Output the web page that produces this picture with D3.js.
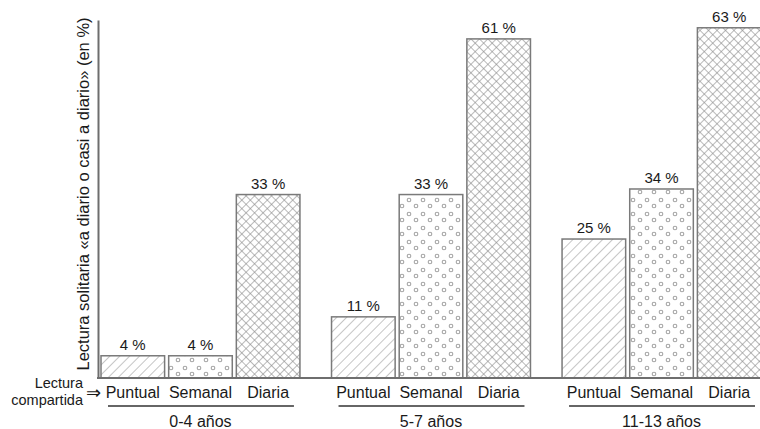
<!DOCTYPE html>
<html>
<head>
<meta charset="utf-8">
<script src="https://cdn.jsdelivr.net/npm/d3@7"></script>
<style>
  body { margin: 0; background: #fff; }
  text { font-family: "Liberation Sans", Arial, sans-serif; fill: #1a1a1a; }
</style>
</head>
<body>
<div id="chart"></div>
<script>

let groups = ["0-4 años", "5-7 años", "11-13 años"];
let cats = ["Puntual", "Semanal", "Diaria"];
let puntual = [4, 11, 25];
let semanal = [4, 33, 34];
let diaria = [33, 61, 63];

let width = 760, height = 429;

let data = [];
groups.forEach(function(g, i) {
    data.push({group: g, cat: "Puntual", value: puntual[i]});
    data.push({group: g, cat: "Semanal", value: semanal[i]});
    data.push({group: g, cat: "Diaria", value: diaria[i]});
});

let svg = d3.select("#chart")
    .append("svg")
    .attr("width", width)
    .attr("height", height);

// patterns
let defs = svg.append("defs");

let p1 = defs.append("pattern")
    .attr("id", "pat-puntual")
    .attr("patternUnits", "userSpaceOnUse")
    .attr("width", 7).attr("height", 7)
    .attr("patternTransform", "rotate(45)");
p1.append("rect").attr("width", 7).attr("height", 7).attr("fill", "#fff");
p1.append("line")
    .attr("x1", 0).attr("y1", 0).attr("x2", 0).attr("y2", 7)
    .attr("stroke", "#959595").attr("stroke-width", 1.1);

let p2 = defs.append("pattern")
    .attr("id", "pat-semanal")
    .attr("patternUnits", "userSpaceOnUse")
    .attr("width", 14).attr("height", 14);
p2.append("rect").attr("width", 14).attr("height", 14).attr("fill", "#fff");
p2.append("circle").attr("cx", 3).attr("cy", 4).attr("r", 1.8)
    .attr("fill", "none").attr("stroke", "#a5a5a5").attr("stroke-width", 1.1);
p2.append("circle").attr("cx", 10).attr("cy", 10).attr("r", 1.8)
    .attr("fill", "none").attr("stroke", "#a5a5a5").attr("stroke-width", 1.1);

let p3 = defs.append("pattern")
    .attr("id", "pat-diaria")
    .attr("patternUnits", "userSpaceOnUse")
    .attr("width", 6).attr("height", 6)
    .attr("patternTransform", "rotate(45)");
p3.append("rect").attr("width", 6).attr("height", 6).attr("fill", "#fff");
p3.append("line").attr("x1", 0).attr("y1", 0).attr("x2", 0).attr("y2", 6)
    .attr("stroke", "#8a8a8a").attr("stroke-width", 1.2);
p3.append("line").attr("x1", 0).attr("y1", 0).attr("x2", 6).attr("y2", 0)
    .attr("stroke", "#8a8a8a").attr("stroke-width", 1.2);

let fills = {"Puntual": "url(#pat-puntual)", "Semanal": "url(#pat-semanal)", "Diaria": "url(#pat-diaria)"};

let x0 = d3.scaleBand()
    .domain(groups)
    .range([101, 761])
    .paddingInner(0.137);

let x1 = d3.scaleBand()
    .domain(cats)
    .range([0, x0.bandwidth()])
    .paddingInner(0.06);

let y = d3.scaleLinear()
    .domain([0, 64.4])
    .range([378, 20]);

// bars
svg.selectAll(".bar")
    .data(data)
    .enter().append("rect")
    .attr("class", "bar")
    .attr("x", function(d) { return x0(d.group) + x1(d.cat); })
    .attr("y", function(d) { return y(d.value); })
    .attr("width", x1.bandwidth())
    .attr("height", function(d) { return y(0) - y(d.value); })
    .attr("fill", function(d) { return fills[d.cat]; })
    .attr("stroke", "#7a7a7a")
    .attr("stroke-width", 1.5);

// value labels
svg.selectAll(".val")
    .data(data)
    .enter().append("text")
    .attr("class", "val")
    .attr("x", function(d) { return x0(d.group) + x1(d.cat) + x1.bandwidth() / 2; })
    .attr("y", function(d) { return y(d.value) - 6; })
    .attr("text-anchor", "middle")
    .style("font-size", "15px")
    .text(function(d) { return d.value + " %"; });

// y axis
let yAxis = d3.axisLeft(y).tickValues([]).tickSizeOuter(0);
let yAxisGroup = svg.append("g")
    .attr("transform", "translate(98,0)")
    .call(yAxis);
yAxisGroup.select(".domain").attr("stroke", "#6e6e6e").attr("stroke-width", 2);

// baseline
svg.append("line")
    .attr("x1", 97).attr("x2", width)
    .attr("y1", y(0)).attr("y2", y(0))
    .attr("stroke", "#6e6e6e").attr("stroke-width", 2);

// category labels
svg.selectAll(".cat")
    .data(data)
    .enter().append("text")
    .attr("class", "cat")
    .attr("x", function(d) { return x0(d.group) + x1(d.cat) + x1.bandwidth() / 2; })
    .attr("y", 398)
    .attr("text-anchor", "middle")
    .style("font-size", "16px")
    .text(function(d) { return d.cat; });

// group underline + label
svg.selectAll(".gline")
    .data(groups)
    .enter().append("line")
    .attr("x1", function(d) { return x0(d) + 7; })
    .attr("x2", function(d) { return x0(d) + x0.bandwidth() - 6; })
    .attr("y1", 406).attr("y2", 406)
    .attr("stroke", "#333").attr("stroke-width", 1.5);

svg.selectAll(".glabel")
    .data(groups)
    .enter().append("text")
    .attr("x", function(d) { return x0(d) + x0.bandwidth() / 2; })
    .attr("y", 427)
    .attr("text-anchor", "middle")
    .style("font-size", "16px")
    .text(function(d) { return d; });

// "Lectura compartida" note
svg.append("text")
    .attr("x", 83).attr("y", 388)
    .attr("text-anchor", "end")
    .style("font-size", "14.5px")
    .text("Lectura");
svg.append("text")
    .attr("x", 83).attr("y", 405)
    .attr("text-anchor", "end")
    .style("font-size", "14.5px")
    .text("compartida");
svg.append("text")
    .attr("x", 86).attr("y", 399)
    .style("font-family", "DejaVu Sans")
    .style("font-size", "18px")
    .text("⇒");

// y label
svg.append("text")
    .attr("transform", "translate(89," + ((16 + 372) / 2) + ") rotate(-90)")
    .attr("text-anchor", "middle")
    .style("font-size", "16.5px")
    .text("Lectura solitaria «a diario o casi a diario» (en %)");

</script>
</body>
</html>
